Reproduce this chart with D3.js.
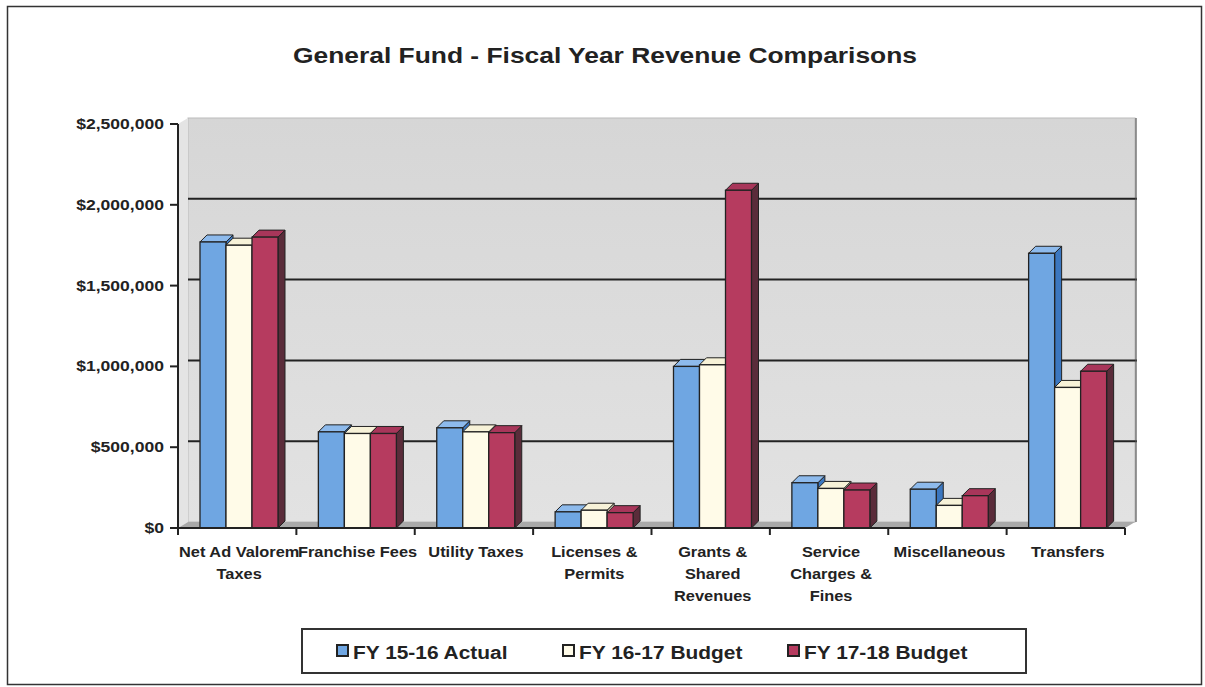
<!DOCTYPE html>
<html>
<head>
<meta charset="utf-8">
<script src="https://cdn.jsdelivr.net/npm/d3@7"></script>
<style>
  body { margin: 0; background: #fff; }
  text { font-family: "Liberation Sans", Arial, sans-serif; font-weight: bold; fill: #222; }
</style>
</head>
<body>
<svg id="mainSVG" width="1205" height="687"></svg>
<script>
var categories = ['Net Ad Valorem Taxes','Franchise Fees','Utility Taxes','Licenses & Permits',
    'Grants & Shared Revenues','Service Charges & Fines','Miscellaneous','Transfers'];
var catLines = [['Net Ad Valorem','Taxes'],['Franchise Fees'],['Utility Taxes'],['Licenses &','Permits'],
    ['Grants &','Shared','Revenues'],['Service','Charges &','Fines'],['Miscellaneous'],['Transfers']];
var seriesNames = ['FY 15-16 Actual','FY 16-17 Budget','FY 17-18 Budget'];
var actual1516 = [1770000, 595000, 620000, 100000, 1000000, 280000, 240000, 1700000];
var budget1617 = [1750000, 585000, 595000, 110000, 1010000, 245000, 140000, 870000];
var budget1718 = [1800000, 585000, 590000, 95000, 2090000, 235000, 200000, 970000];
var yTicks = [0, 500000, 1000000, 1500000, 2000000, 2500000];

var seriesValues = [actual1516, budget1617, budget1718];
var fronts = ['#6fa6e2','#fffbe8','#b63b5f'];
var tops = ['#8dbaec','#f7f2d8','#a8365a'];
var sides = ['#3b77c0','#e6e0c0','#5a2c3a'];

// the scanned chart is a little wider than it is tall
var stretch = 1.17;

var $svg = d3.select('#mainSVG');

// Layout
var x0 = 178, x1 = 1125, yBase = 528, yTop = 124;
var wallDx = 10, wallDy = -6;
var barDx = 7, barDy = -7;

var x = d3.scaleBand().domain(categories).range([x0, x1]);
var xs = d3.scaleBand().domain(seriesNames).range([22, 100]);
var y = d3.scaleLinear().domain([0, 2500000]).range([yBase, yTop]);

// Outer frame
$svg.append('rect')
    .attr('x',7.5).attr('y',6.5).attr('width',1194).attr('height',678)
    .attr('fill','none').attr('stroke','#333').attr('stroke-width',1.5);

$svg.append('text')
    .attr('transform',`translate(605 63) scale(${stretch+0.03} 1)`)
    .attr('text-anchor','middle')
    .style('font-size','22px')
    .text('General Fund - Fiscal Year Revenue Comparisons');

// Back wall with gradient
var $grad = $svg.append('defs').append('linearGradient')
    .attr('id','wallGrad').attr('x1',0).attr('x2',0).attr('y1',0).attr('y2',1);
$grad.append('stop').attr('offset','0%').attr('stop-color','#d6d6d6');
$grad.append('stop').attr('offset','100%').attr('stop-color','#e2e2e2');

$svg.append('rect')
    .attr('x',x0+wallDx).attr('y',yTop+wallDy)
    .attr('width',x1-x0).attr('height',yBase-yTop)
    .attr('fill','url(#wallGrad)')
    .attr('stroke','#bbb').attr('stroke-width',1);

// left side wall strip
$svg.append('path')
    .attr('d',`M ${x0} ${yBase} L ${x0} ${yTop} L ${x0+wallDx} ${yTop+wallDy} L ${x0+wallDx} ${yBase+wallDy} Z`)
    .attr('fill','#e4e4e4');

// Gridlines on wall
$svg.append('g').attr('id','grid')
    .selectAll('line').data(yTicks.filter(d=>d>0 && d<2500000))
    .enter().append('line')
    .attr('x1',x0+wallDx).attr('x2',x1+wallDx+2)
    .attr('y1',d=>y(d)+wallDy).attr('y2',d=>y(d)+wallDy)
    .attr('stroke','#222').attr('stroke-width',2);

// right wall edge
$svg.append('line')
    .attr('x1',x1+wallDx+1).attr('x2',x1+wallDx+1)
    .attr('y1',yTop+wallDy).attr('y2',yBase+wallDy)
    .attr('stroke','#555').attr('stroke-width',1.2);

// Floor
$svg.append('path')
    .attr('d',`M ${x0} ${yBase} L ${x1} ${yBase} L ${x1+wallDx} ${yBase+wallDy} L ${x0+wallDx} ${yBase+wallDy} Z`)
    .attr('fill','#a9a9a9');

// Bars, drawn left to right so neighbours hide the side faces
var barData = [];
categories.forEach((c,i)=>{
    seriesNames.forEach((s,j)=>{
        barData.push({cat:c, s:s, j:j, v:seriesValues[j][i]});
    });
});
var bw = xs.bandwidth();

var $bars = $svg.append('g').attr('id','bars')
    .selectAll('g').data(barData).enter().append('g');

$bars.append('path')
    .attr('d',d=>{
        let bx = x(d.cat)+xs(d.s), by = y(d.v);
        return `M ${bx+bw} ${yBase} L ${bx+bw+barDx} ${yBase+barDy} L ${bx+bw+barDx} ${by+barDy} L ${bx+bw} ${by} Z`;
    })
    .attr('fill',d=>sides[d.j]).attr('stroke','#222').attr('stroke-width',1);

$bars.append('path')
    .attr('d',d=>{
        let bx = x(d.cat)+xs(d.s), by = y(d.v);
        return `M ${bx} ${by} L ${bx+barDx} ${by+barDy} L ${bx+bw+barDx} ${by+barDy} L ${bx+bw} ${by} Z`;
    })
    .attr('fill',d=>tops[d.j]).attr('stroke','#222').attr('stroke-width',1);

$bars.append('rect')
    .attr('x',d=>x(d.cat)+xs(d.s))
    .attr('y',d=>y(d.v))
    .attr('width',bw)
    .attr('height',d=>yBase-y(d.v))
    .attr('fill',d=>fronts[d.j]).attr('stroke','#222').attr('stroke-width',1.3);

// Y axis
var $yAxis = $svg.append('g').attr('id','y-axis');
$yAxis.append('line')
    .attr('x1',x0).attr('x2',x0).attr('y1',yTop).attr('y2',yBase+1)
    .attr('stroke','#222').attr('stroke-width',2);
$yAxis.selectAll('line.tick').data(yTicks).enter().append('line')
    .attr('class','tick')
    .attr('x1',x0-8).attr('x2',x0)
    .attr('y1',d=>y(d)).attr('y2',d=>y(d))
    .attr('stroke','#222').attr('stroke-width',2);
$yAxis.selectAll('text').data(yTicks).enter().append('text')
    .attr('transform',d=>`translate(164 ${y(d)+5}) scale(${stretch} 1)`)
    .attr('text-anchor','end')
    .style('font-size','15px')
    .text(d=>'$'+d3.format(',')(d));

// X axis
var $xAxis = $svg.append('g').attr('id','x-axis');
$xAxis.append('line')
    .attr('x1',x0-8).attr('x2',x1).attr('y1',yBase).attr('y2',yBase)
    .attr('stroke','#222').attr('stroke-width',2);
$xAxis.selectAll('line.tick').data(d3.range(categories.length+1)).enter().append('line')
    .attr('class','tick')
    .attr('x1',i=>x0+i*x.step()).attr('x2',i=>x0+i*x.step())
    .attr('y1',yBase).attr('y2',yBase+7)
    .attr('stroke','#222').attr('stroke-width',2);

$xAxis.selectAll('text').data(categories).enter().append('text')
    .attr('text-anchor','middle')
    .attr('transform',d=>`translate(${x(d)+x.bandwidth()/2+2} 0) scale(${stretch} 1)`)
    .style('font-size','14px')
    .each(function(d,i){
        d3.select(this).selectAll('tspan').data(catLines[i]).enter().append('tspan')
            .attr('x',0)
            .attr('y',(t,k)=>557+k*22)
            .text(t=>t);
    });

// Legend
var $legend = $svg.append('g').attr('id','legend');
$legend.append('rect')
    .attr('x',302).attr('y',629).attr('width',724).attr('height',44)
    .attr('fill','#fff').attr('stroke','#333').attr('stroke-width',2);
var legendX = [337, 563, 788];
var $items = $legend.selectAll('g.item').data(seriesNames).enter().append('g')
    .attr('class','item')
    .attr('transform',(d,i)=>`translate(${legendX[i]},645)`);
$items.append('rect')
    .attr('width',11).attr('height',11)
    .attr('fill',(d,i)=>fronts[i]).attr('stroke','#222').attr('stroke-width',2);
$items.append('text')
    .attr('transform','translate(16 14) scale(1.1 1)')
    .style('font-size','19px')
    .text(d=>d);
</script>
</body>
</html>
